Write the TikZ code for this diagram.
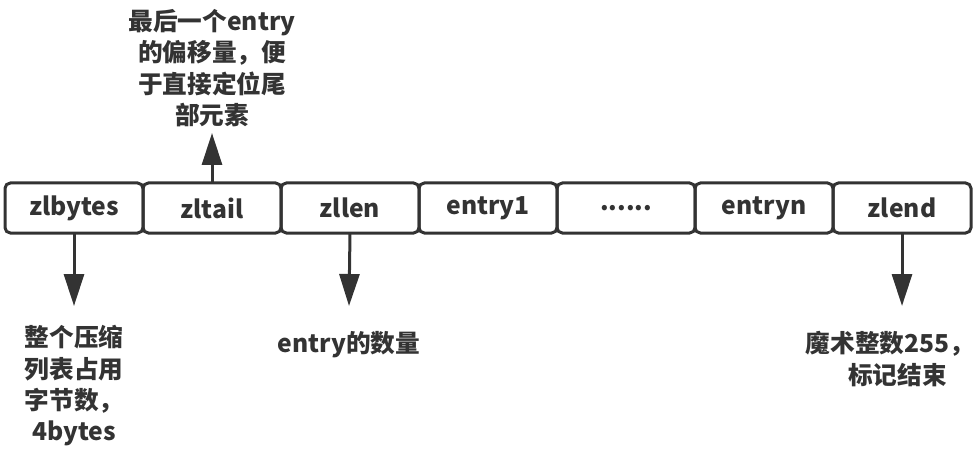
\documentclass[tikz,border=0pt]{standalone}
\usepackage{fontspec}
\setmainfont{Noto Sans CJK SC}
\usepackage{xcolor}
\usepackage{tikz}
\usetikzlibrary{positioning}
\usetikzlibrary{arrows.meta}
\definecolor{inkgray}{HTML}{333333}

\begin{document}
\begin{tikzpicture}[x=0.75pt,y=-0.75pt,
	line width=2.25pt,
	node distance=0pt,
	font=\fontsize{18.5}{23.5}\selectfont\bfseries,
  field/.style={draw=inkgray,rounded corners=4pt,minimum width=103.5pt,minimum height=37.5pt,inner sep=0pt,outer sep=0pt,text=inkgray},
  note/.style={align=center,inner sep=0pt,text=inkgray},
  pointer/.style={draw=inkgray,-{Triangle[width=15pt,length=24pt]}}]
  \useasboundingbox (0,0) rectangle (973,452);
  \node[field] (zlbytes) at (74,208) {zlbytes};
  \node[field,right=of zlbytes] (zltail) {zltail};
  \node[field,right=of zltail] (zllen) {zllen};
  \node[field,right=of zllen] (entry1) {entry1};
  \node[field,right=of entry1] (dots) {......};
  \node[field,right=of dots] (entryn) {entryn};
  \node[field,right=of entryn] (zlend) {zlend};
  % notes
  \node[note] (tailnote) at (212,68) {最后一个entry\\的偏移量，便\\于直接定位尾\\部元素};
  \node[note] (bytesnote) at (74,386) {整个压缩\\列表占用\\字节数，\\4bytes};
  \node[note] (lennote) at (349,345) {entry的数量};
  \node[note] (endnote) at (890,359) {魔术整数255，\\\hspace{11pt}标记结束};
  % arrow ends
  \coordinate (tailtip) at (212,133);
  \coordinate (bytestip) at (74,306);
  \coordinate (lentip) at (349,306);
  \coordinate (endtip) at (902,306);
  \draw[pointer] (zltail.north) -- (tailtip);
  \draw[pointer] (zlbytes.south) -- (bytestip);
  \draw[pointer] (zllen.south) -- (lentip);
  \draw[pointer] (zlend.south-|endtip) -- (endtip);
\end{tikzpicture}
\end{document}
